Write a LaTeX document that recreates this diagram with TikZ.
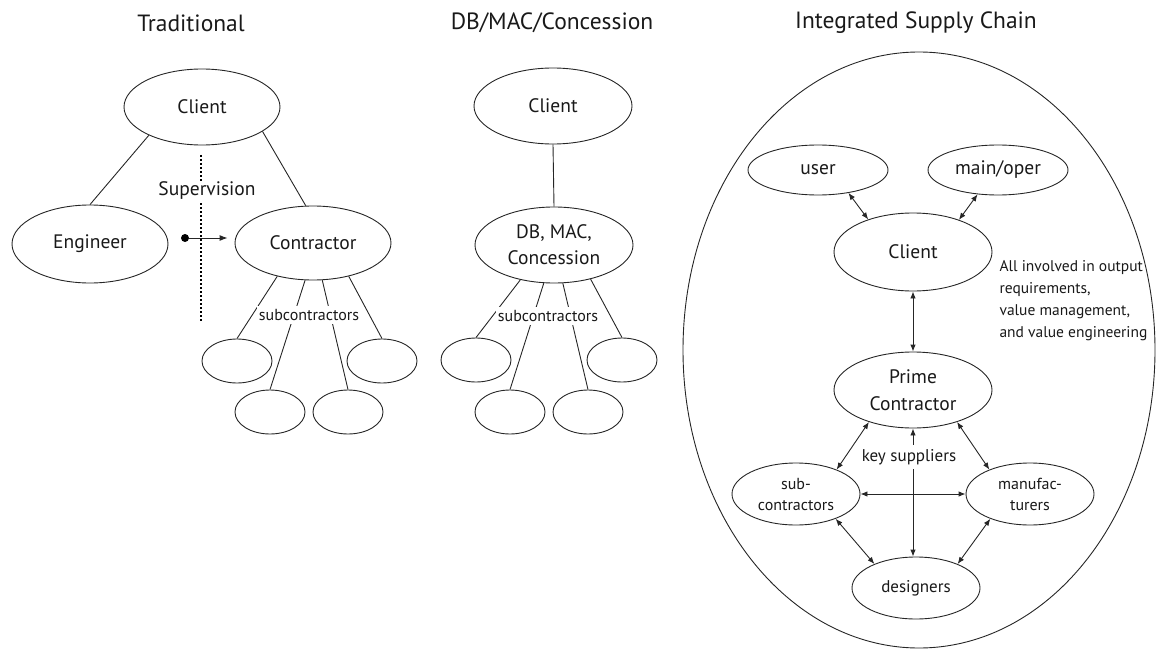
\documentclass[tikz,border=0pt]{standalone}
\usepackage{fontspec}
\setmainfont{PT Sans}
\usetikzlibrary{shapes.geometric,arrows.meta}
\begin{document}
\begin{tikzpicture}[x=1pt,y=-1pt,
  every node/.style={text=black!90},
  ell/.style={draw=black!85,line width=0.9pt,ellipse,inner sep=0pt},
  lbl/.style={font=\fontsize{19.5}{23}\selectfont,align=center},
  small/.style={font=\fontsize{16}{19}\selectfont,align=center},
  tiny/.style={font=\fontsize{15.5}{22}\selectfont,align=left},
  ttl/.style={font=\fontsize{23.5}{28}\selectfont},
  conn/.style={draw=black!85,line width=0.9pt},
  biarrow/.style={conn,{Latex[length=7pt,width=5.5pt]}-{Latex[length=7pt,width=5.5pt]}},
  whitebg/.style={fill=white,inner sep=2pt},
  dotline/.style={draw=black,line width=2.2pt,dash pattern=on 2pt off 2pt}
]
\useasboundingbox (0,0) rectangle (1162,650);
% ---------------- Traditional ----------------
\node[ttl] (t1) at (191,23) {Traditional};
\node[ell,minimum width=156pt,minimum height=76pt,lbl] (tc) at (202,107) {Client};
\node[ell,minimum width=156pt,minimum height=78pt,lbl] (te) at (90,244) {Engineer};
\node[ell,minimum width=156pt,minimum height=74pt,lbl] (tk) at (313,243) {Contractor};
\draw[conn] (tc.208) -- (te.north);
\draw[conn] (tc.338) -- (tk.101);
\foreach \n/\x/\y in {ts1/237/361, ts2/270/412, ts3/348/412, ts4/382/361}
  \node[ell,minimum width=70pt,minimum height=44pt] (\n) at (\x,\y) {};
\draw[conn] (tk.223) -- (ts1.north);
\draw[conn] (tk.258) -- (ts2.north);
\draw[conn] (tk.284) -- (ts3.north);
\draw[conn] (tk.317) -- (ts4.north);
\node[small,whitebg,inner ysep=3pt] (tsub) at (309,315) {subcontractors};
\coordinate (sv1) at (201,155);
\coordinate (sv2) at (201,322);
\draw[dotline] (sv1) -- (sv2);
\node[lbl,whitebg,inner ysep=1pt] (sup) at (207,191) {Supervision};
\node[circle,fill=black,inner sep=0pt,minimum size=8pt] (dot) at (185,238) {};
\draw[conn,-{Latex[length=8pt,width=6pt]}] (dot) -- ([xshift=-7pt]tk.west |- dot);
% ---------------- DB/MAC/Concession ----------------
\node[ttl] (t2) at (552,23) {DB/MAC/Concession};
\node[ell,minimum width=158pt,minimum height=76pt,lbl] (dc) at (553,106) {Client};
\node[ell,minimum width=158pt,minimum height=76pt,lbl,font=\fontsize{19.5}{26}\selectfont] (dd) at (554,245) {DB, MAC,\\Concession};
\draw[conn] (dc.south) -- (dd.north);
\foreach \n/\x/\y in {ds1/476/360, ds2/510/412, ds3/588/412, ds4/622/360}
  \node[ell,minimum width=70pt,minimum height=44pt] (\n) at (\x,\y) {};
\draw[conn] (dd.226) -- (ds1.north);
\draw[conn] (dd.255) -- (ds2.north);
\draw[conn] (dd.283) -- (ds3.north);
\draw[conn] (dd.317) -- (ds4.north);
\node[small,whitebg,inner ysep=3pt] (dsub) at (548,316) {subcontractors};
% ---------------- Integrated Supply Chain ----------------
\node[ttl] (t3) at (916,23) {Integrated Supply Chain};
\node[ell,minimum width=472pt,minimum height=596pt] (big) at (919,350) {};
\node[ell,minimum width=140pt,minimum height=50pt,lbl] (iu) at (818,170) {user};
\node[ell,minimum width=140pt,minimum height=50pt,lbl] (im) at (998,170) {main/oper};
\node[ell,minimum width=158pt,minimum height=78pt,lbl] (ic) at (913,252) {Client};
\node[ell,minimum width=158pt,minimum height=76pt,lbl,font=\fontsize{19.5}{27}\selectfont] (ip) at (913,390) {Prime\\Contractor};
\node[ell,minimum width=128pt,minimum height=62pt,small,font=\fontsize{16}{21}\selectfont] (isc) at (796,494) {sub-\\contractors};
\node[ell,minimum width=128pt,minimum height=62pt,small,font=\fontsize{16}{21}\selectfont] (imf) at (1030,494) {manufac-\\turers};
\node[ell,minimum width=128pt,minimum height=62pt,font=\fontsize{17}{20}\selectfont] (ids) at (916,588) {designers};
\node[tiny,anchor=north west] (inote) at (996,257) {All involved in output\\requirements,\\value management,\\and value engineering};
\draw[biarrow] (iu.323) -- (ic.144);
\draw[biarrow] (im.230) -- (ic.35);
\draw[biarrow] (ic.south) -- (ip.north);
\draw[biarrow] (ip.south) -- (ip.south |- ids.north);
\draw[biarrow] (isc.east) -- (imf.west);
\draw[biarrow] (ip.216) -- (isc.31);
\draw[biarrow] (ip.324) -- (imf.149);
\draw[biarrow] (isc.328) -- (ids.150);
\draw[biarrow] (imf.212) -- (ids.30);
\node[font=\fontsize{17}{20}\selectfont,whitebg,inner ysep=4pt] (iks) at (909,457) {key suppliers};
\end{tikzpicture}
\end{document}
